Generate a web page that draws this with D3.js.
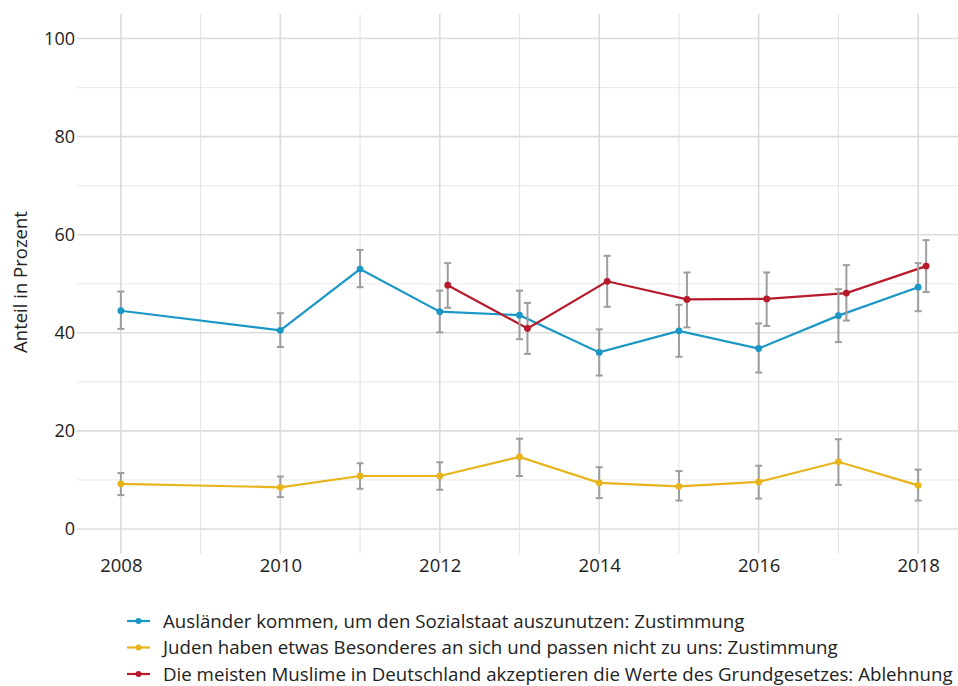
<!DOCTYPE html>
<html>
<head>
<meta charset="utf-8">
<script src="https://cdn.jsdelivr.net/npm/d3@7"></script>
<style>
  html, body { margin: 0; padding: 0; background: #fff; }
  svg { display: block; font-family: "Open Sans", "Noto Sans", sans-serif; }
</style>
</head>
<body>
<svg id="chart" width="958" height="686"></svg>
<script>
// Survey years per series
const yearsAll = [2008, 2010, 2011, 2012, 2013, 2014, 2015, 2016, 2017, 2018];
const yearsMuslime = [2012, 2013, 2014, 2015, 2016, 2017, 2018];

// Ausländer kommen, um den Sozialstaat auszunutzen: Zustimmung
const auslaenderValue = [44.5, 40.5, 53.0, 44.3, 43.6, 36.0, 40.4, 36.8, 43.5, 49.3];
const auslaenderLow   = [40.8, 37.1, 49.3, 40.1, 38.7, 31.3, 35.1, 31.9, 38.1, 44.4];
const auslaenderHigh  = [48.4, 44.0, 56.9, 48.6, 48.6, 40.7, 45.7, 41.9, 48.9, 54.2];

// Juden haben etwas Besonderes an sich und passen nicht zu uns: Zustimmung
const judenValue = [9.2, 8.5, 10.8, 10.8, 14.7, 9.4, 8.7, 9.6, 13.7, 8.9];
const judenLow   = [6.9, 6.5, 8.2, 8.0, 10.8, 6.3, 5.8, 6.2, 9.0, 5.8];
const judenHigh  = [11.4, 10.7, 13.4, 13.6, 18.4, 12.6, 11.8, 12.9, 18.3, 12.1];

// Die meisten Muslime ... akzeptieren die Werte des Grundgesetzes: Ablehnung
const muslimeValue = [49.7, 40.9, 50.5, 46.8, 46.9, 48.1, 53.6];
const muslimeLow   = [45.1, 35.7, 45.3, 41.1, 41.4, 42.5, 48.3];
const muslimeHigh  = [54.2, 46.1, 55.7, 52.3, 52.3, 53.8, 58.9];

const seriesLabels = [
  "Ausländer kommen, um den Sozialstaat auszunutzen: Zustimmung",
  "Juden haben etwas Besonderes an sich und passen nicht zu uns: Zustimmung",
  "Die meisten Muslime in Deutschland akzeptieren die Werte des Grundgesetzes: Ablehnung"
];
const seriesColors = ["#1b97c6", "#e8b41c", "#b71a2b"];
const xTicks = [2008, 2010, 2012, 2014, 2016, 2018];
const yTicks = [0, 20, 40, 60, 80, 100];
const yAxisTitle = "Anteil in Prozent";

// Horizontal nudge (in years) so overlapping series stay readable
const dodge = [0, 0, 0.1];

const series = [
  { years: yearsAll, v: auslaenderValue, lo: auslaenderLow, hi: auslaenderHigh },
  { years: yearsAll, v: judenValue, lo: judenLow, hi: judenHigh },
  { years: yearsMuslime, v: muslimeValue, lo: muslimeLow, hi: muslimeHigh }
].map((s, i) => ({
  label: seriesLabels[i],
  color: seriesColors[i],
  points: s.years.map((yr, j) => ({ x: yr + dodge[i], v: s.v[j], lo: s.lo[j], hi: s.hi[j] }))
}));

const svg = d3.select("#chart");
const plot = { left: 77, right: 962, top: 14, bottom: 553.5 };

const x = d3.scaleLinear().domain([2007.45, 2018.55]).range([plot.left, plot.right]);
const y = d3.scaleLinear().domain([-5, 105]).range([plot.bottom, plot.top]);

// Grid: minor lines first, then major
const grid = svg.append("g");
d3.range(10, 100, 20).forEach(v => {
  grid.append("line").attr("x1", plot.left).attr("x2", plot.right)
    .attr("y1", y(v)).attr("y2", y(v))
    .attr("stroke", "#ebebeb").attr("stroke-width", 1.2);
});
d3.range(2009, 2018, 2).forEach(yr => {
  grid.append("line").attr("x1", x(yr)).attr("x2", x(yr))
    .attr("y1", plot.top).attr("y2", plot.bottom)
    .attr("stroke", "#e6e6e6").attr("stroke-width", 1.2);
});
yTicks.forEach(v => {
  grid.append("line").attr("x1", plot.left).attr("x2", plot.right)
    .attr("y1", y(v)).attr("y2", y(v))
    .attr("stroke", "#dcdcdc").attr("stroke-width", 1.6);
});
xTicks.forEach(yr => {
  grid.append("line").attr("x1", x(yr)).attr("x2", x(yr))
    .attr("y1", plot.top).attr("y2", plot.bottom)
    .attr("stroke", "#dcdcdc").attr("stroke-width", 1.6);
});

// Axes (labels only; grid carries the lines)
const yAxis = svg.append("g").attr("transform", `translate(${plot.left},0)`)
  .call(d3.axisLeft(y).tickValues(yTicks).tickSize(0).tickPadding(2));
yAxis.select(".domain").remove();
yAxis.selectAll("text").attr("font-size", 18).attr("fill", "#222")
  .style("font-family", "'Open Sans', sans-serif");

const xAxis = svg.append("g").attr("transform", `translate(0,${plot.bottom})`)
  .call(d3.axisBottom(x).tickValues(xTicks).tickFormat(d3.format("d")).tickSize(0).tickPadding(5));
xAxis.select(".domain").remove();
xAxis.selectAll("text").attr("font-size", 18.5).attr("fill", "#222")
  .style("font-family", "'Open Sans', sans-serif");

svg.append("text")
  .attr("transform", `translate(27,282) rotate(-90)`)
  .attr("text-anchor", "middle")
  .attr("font-size", 18.5).attr("fill", "#222")
  .text(yAxisTitle);

// Series lines
const line = d3.line().x(d => x(d.x)).y(d => y(d.v));
series.forEach(s => {
  svg.append("path").datum(s.points)
    .attr("d", line).attr("fill", "none")
    .attr("stroke", s.color).attr("stroke-width", 2.2);
});

// Confidence intervals
const capW = 3.5;
series.forEach(s => {
  const g = svg.append("g").attr("stroke", "#9d9d9d").attr("stroke-width", 2).attr("fill", "none");
  s.points.forEach(p => {
    const cx = x(p.x);
    g.append("line").attr("x1", cx).attr("x2", cx).attr("y1", y(p.lo)).attr("y2", y(p.hi));
    g.append("line").attr("x1", cx - capW).attr("x2", cx + capW).attr("y1", y(p.lo)).attr("y2", y(p.lo));
    g.append("line").attr("x1", cx - capW).attr("x2", cx + capW).attr("y1", y(p.hi)).attr("y2", y(p.hi));
  });
});

// Points
series.forEach(s => {
  svg.append("g").selectAll("circle").data(s.points).join("circle")
    .attr("cx", d => x(d.x)).attr("cy", d => y(d.v)).attr("r", 3.4)
    .attr("fill", s.color);
});

// Legend
const legend = svg.append("g");
series.forEach((s, i) => {
  const cy = 621 + i * 26.5;
  legend.append("line").attr("x1", 127).attr("x2", 150).attr("y1", cy).attr("y2", cy)
    .attr("stroke", s.color).attr("stroke-width", 2.2);
  legend.append("circle").attr("cx", 138.5).attr("cy", cy).attr("r", 3).attr("fill", s.color);
  legend.append("text").attr("x", 163).attr("y", cy + 6.5)
    .attr("font-size", 18.7).attr("fill", "#222")
    .text(s.label);
});
</script>
</body>
</html>
